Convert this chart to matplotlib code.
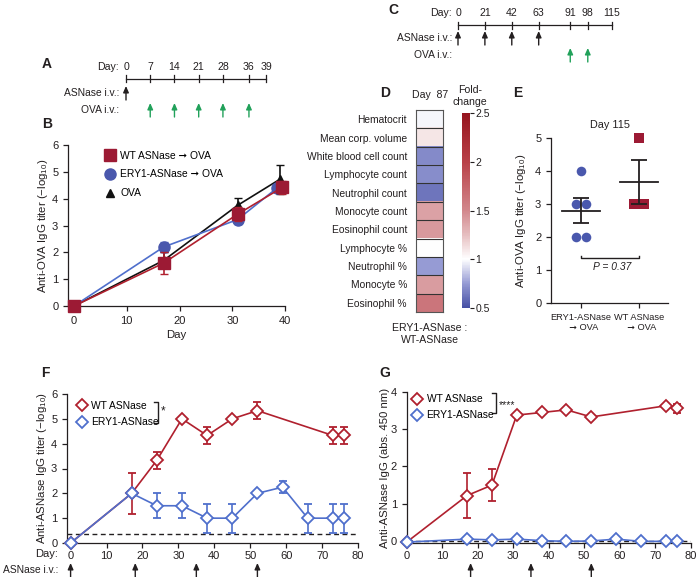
import matplotlib
matplotlib.use('Agg')
import matplotlib.pyplot as plt
import numpy as np
from matplotlib.colors import LinearSegmentedColormap, Normalize
from matplotlib.lines import Line2D

plt.rcParams['font.family'] = ['Liberation Sans', 'DejaVu Sans']
plt.rcParams['mathtext.fontset'] = 'custom'
plt.rcParams['mathtext.rm'] = 'Liberation Sans'
plt.rcParams['mathtext.it'] = 'Liberation Sans:italic'
plt.rcParams['font.size'] = 7.4
plt.rcParams['axes.linewidth'] = 0.9
plt.rcParams['xtick.major.width'] = 0.9
plt.rcParams['ytick.major.width'] = 0.9
plt.rcParams['xtick.major.size'] = 3.5
plt.rcParams['ytick.major.size'] = 3.5

# ---------------- data ----------------
# Panel A timeline
a_days = [0, 7, 14, 21, 28, 36, 39]
a_asnase = [0]
a_ova = [7, 14, 21, 28, 36]
# Panel C timeline
c_days = [0, 21, 42, 63, 91, 98, 115]
c_asnase = [0, 21, 42, 63]
c_ova = [91, 98]
# Panel B
b_wt_day = [0, 17, 31, 39.5]
b_wt = [0, 1.6, 3.42, 4.42]
b_wt_err = [0, 0.4, 0.27, 0.25]
b_ery_day = [0, 17, 31, 38.5]
b_ery = [0, 2.2, 3.22, 4.4]
b_ery_err = [0, 0.2, 0.15, 0.08]
b_ova_day = [0, 17, 31, 39]
b_ova = [0, 1.7, 3.75, 4.72]
b_ova_err = [0, 0.3, 0.27, 0.55]
# Panel D
d_labels = ['Hematocrit', 'Mean corp. volume', 'White blood cell count',
            'Lymphocyte count', 'Neutrophil count', 'Monocyte count',
            'Eosinophil count', 'Lymphocyte %', 'Neutrophil %',
            'Monocyte %', 'Eosinophil %']
d_fold = [0.98, 1.1, 0.7, 0.71, 0.63, 1.38, 1.42, 1.0, 0.75, 1.4, 1.62]
d_ticks = [0.5, 1, 1.5, 2, 2.5]
# Panel E
e_cats = ['ERY1-ASNase\n  \u279e OVA', 'WT ASNase\n  \u279e OVA']
e_ery = [4, 3, 3, 2, 2]
e_wt = [5, 3, 3]
e_p = 'P = 0.37'
# Panel F
f_wt_day = [0, 17, 24, 31, 38, 45, 52, 73, 76]
f_wt = [0, 2.0, 3.33, 5.0, 4.33, 5.0, 5.33, 4.33, 4.33]
f_wt_err = [0, 0.83, 0.33, 0, 0.33, 0, 0.33, 0.33, 0.33]
f_ery_day = [0, 17, 24, 31, 38, 45, 52, 59, 66, 73, 76]
f_ery = [0, 2.0, 1.5, 1.5, 1.0, 1.0, 2.0, 2.25, 1.0, 1.0, 1.0]
f_ery_err = [0, 0, 0.5, 0.5, 0.58, 0.58, 0, 0.25, 0.58, 0.58, 0.58]
f_limit = 0.37
# Panel G
g_wt_day = [0, 17, 24, 31, 38, 45, 52, 73, 76]
g_wt = [-0.03, 1.22, 1.5, 3.38, 3.45, 3.52, 3.33, 3.63, 3.56]
g_wt_err = [0, 0.6, 0.43, 0, 0, 0, 0, 0, 0.12]
g_ery_day = [0, 17, 24, 31, 38, 45, 52, 59, 66, 73, 76]
g_ery = [-0.03, 0.05, 0.03, 0.05, 0.01, -0.01, 0.0, 0.05, -0.01, -0.01, -0.01]
g_limit = 0.0
fg_asnase_f = [0, 18, 35, 52]
fg_asnase_g = [18, 35, 52]

# ---------------- style ----------------
W, H = 700, 577
fig = plt.figure(figsize=(7, 5.77), dpi=100)
TXT = '#231f20'
RED = '#b0202e'
RED_M = '#9c1a34'
BLUE = '#4f6fcc'
BLUE_M = '#4a58ad'
GREEN = '#21a15a'
FS = 7.4
TFS = 7.6
TICK = 8


def px_axes(l, t, r, b):
    return fig.add_axes([l / W, 1 - b / H, (r - l) / W, (b - t) / H])


def letter(x, y, s):
    fig.text(x / W, 1 - y / H, s, fontsize=10, fontweight='bold', ha='center', va='center', color=TXT)


def up_arrow(ax, x, y0, y1, color, xycoords='data'):
    ax.annotate('', xy=(x, y1), xytext=(x, y0), xycoords=xycoords, textcoords=xycoords,
                arrowprops=dict(arrowstyle='-|>,head_length=0.5,head_width=0.22', color=color,
                                lw=1.0, shrinkA=0, shrinkB=0), annotation_clip=False)


def style_axes(ax):
    for s in ['top', 'right']:
        ax.spines[s].set_visible(False)
    for s in ['left', 'bottom']:
        ax.spines[s].set_color(TXT)
    ax.tick_params(colors=TXT, labelcolor=TXT, labelsize=TICK)


def timeline(l, r, t, b, days, asn, ova, y_lab, y_line, y_asn, y_ova, right_px):
    # schematic timeline: spacing blends even steps with day-proportional steps
    ax = px_axes(l, t, r, b)
    ax.set_xlim(0, 1)
    ax.set_ylim(b, t)
    ax.axis('off')
    n = len(days)
    span = days[-1] - days[0]

    def pos(d):
        i = np.interp(d, days, np.arange(n))
        return 0.5 * i / (n - 1) + 0.5 * (d - days[0]) / span

    xr = (right_px - l) / (r - l)
    ax.text(xr, y_lab, 'Day:', ha='right', va='center', fontsize=TFS, color=TXT)
    ax.text(xr, y_asn, 'ASNase i.v.:', ha='right', va='center', fontsize=FS, color=TXT)
    ax.text(xr, y_ova, 'OVA i.v.:', ha='right', va='center', fontsize=FS, color=TXT)
    for d in days:
        ax.text(pos(d), y_lab, str(d), ha='center', va='center', fontsize=TFS, color=TXT)
        ax.plot([pos(d), pos(d)], [y_line - 3.5, y_line + 3.5], color=TXT, lw=0.9, clip_on=False)
    ax.plot([0, 1], [y_line, y_line], color=TXT, lw=0.9, clip_on=False)
    for d in asn:
        up_arrow(ax, pos(d), y_asn + 7, y_asn - 7, TXT)
    for d in ova:
        up_arrow(ax, pos(d), y_ova + 7, y_ova - 7, GREEN)
    return ax


# ---------------- A ----------------
letter(47, 64, 'A')
timeline(126, 266, 55, 125, a_days, a_asnase, a_ova, 67, 79, 93, 110, 119)

# ---------------- C ----------------
letter(393, 10, 'C')
timeline(458, 612, 0, 65, c_days, c_asnase, c_ova, 13, 25, 38, 55, 452)

# ---------------- B ----------------
letter(47, 124, 'B')
axB = px_axes(68, 145, 285, 306)
axB.set_xlim(-1.14, 40)
axB.set_ylim(0, 6)
style_axes(axB)
axB.errorbar(b_ova_day, b_ova, yerr=b_ova_err, color='#111111', marker='^', ms=6,
             lw=1.2, capsize=3, clip_on=False, zorder=3)
axB.errorbar(b_ery_day, b_ery, yerr=b_ery_err, color=BLUE, marker='o', ms=8, mfc=BLUE_M, mec=BLUE_M,
             lw=1.2, capsize=3, clip_on=False, zorder=4)
axB.errorbar(b_wt_day, b_wt, yerr=b_wt_err, color=RED, marker='s', ms=8, mfc=RED_M, mec=RED_M,
             lw=1.2, capsize=3, clip_on=False, zorder=5)
axB.set_xticks([0, 10, 20, 30, 40])
axB.set_yticks(range(7))
axB.set_xlabel('Day', fontsize=8.2, color=TXT, labelpad=3)
axB.set_ylabel('Anti-OVA IgG titer (\u2212log$_{10}$)', fontsize=8.2, color=TXT)
axB.yaxis.set_label_coords((50 - 68) / (285 - 68), 0.5)
hB = [Line2D([], [], ls='none', marker='s', ms=8, mfc=RED_M, mec=RED_M),
      Line2D([], [], ls='none', marker='o', ms=8, mfc=BLUE_M, mec=BLUE_M),
      Line2D([], [], ls='none', marker='^', ms=6, color='#111111')]
axB.legend(hB, ['WT ASNase \u279e OVA', 'ERY1-ASNase \u279e OVA', 'OVA'], loc='upper left',
           bbox_to_anchor=((101 - 68) / 217, 0.99), frameon=False, handlelength=1.0,
           handletextpad=0.45, labelspacing=0.85, fontsize=FS, borderaxespad=0)

# ---------------- D ----------------
letter(385, 93, 'D')
cmap = LinearSegmentedColormap.from_list('fc', [(0, '#4650a5'), (0.125, '#969bd4'), (0.25, '#ffffff'),
                                                (0.375, '#e6bec0'), (0.5, '#d2878c'), (0.75, '#b94148'),
                                                (1, '#96141e')])
axD = px_axes(416, 110, 443, 312)
im = axD.imshow(np.array(d_fold)[:, None], cmap=cmap, norm=Normalize(0.5, 2.5), aspect='auto')
axD.set_xticks([])
axD.set_yticks(range(len(d_labels)))
axD.set_yticklabels(d_labels, fontsize=FS, color=TXT)
axD.tick_params(axis='y', length=0, pad=6.5)
for i in range(1, len(d_labels)):
    axD.axhline(i - 0.5, color='#333333', lw=0.8)
for s in axD.spines.values():
    s.set_color('#555555')
    s.set_linewidth(0.8)
fig.text(430 / W, 1 - 95 / H, 'Day  87', ha='center', va='center', fontsize=TFS, color=TXT)
fig.text(470 / W, 1 - 96 / H, 'Fold-\nchange', ha='center', va='center', fontsize=TFS, color=TXT,
         linespacing=1.15)
fig.text(430 / W, 1 - 334 / H, 'ERY1-ASNase :\nWT-ASNase', ha='center', va='center', fontsize=TFS,
         color=TXT, linespacing=1.2)
axCB = px_axes(462, 113, 470, 308)
cb = fig.colorbar(im, cax=axCB, ticks=d_ticks)
cb.outline.set_visible(False)
cb.ax.set_yticklabels(['0.5', '1', '1.5', '2', '2.5'])
cb.ax.tick_params(length=3, width=0.8, labelsize=7.5, colors=TXT, pad=1)

# ---------------- E ----------------
letter(518, 93, 'E')
axE = px_axes(551, 138, 668, 303)
axE.set_xlim(-0.52, 1.5)
axE.set_ylim(0, 5)
style_axes(axE)
axE.set_yticks(range(6))
axE.set_xticks([0, 1])
axE.set_xticklabels(e_cats, fontsize=6.7)
axE.set_title('Day 115', fontsize=TFS + 0.2, color=TXT, pad=7)
axE.set_ylabel('Anti-OVA IgG titer (\u2212log$_{10}$)', fontsize=8.2, color=TXT)
axE.yaxis.set_label_coords((528 - 551) / 117, 0.5)
for xi, vals, col, mk in [(0, e_ery, BLUE_M, 'o'), (1, e_wt, RED_M, 's')]:
    vals = np.array(vals, dtype=float)
    xs = np.zeros(len(vals))
    for v in np.unique(vals):
        idx = np.where(vals == v)[0]
        n = len(idx)
        xs[idx] = (np.arange(n) - (n - 1) / 2) * 0.18
    axE.scatter(xi + xs, vals, s=48, marker=mk, color=col, zorder=3, clip_on=False, linewidths=0)
    m = vals.mean()
    sem = vals.std(ddof=1) / np.sqrt(len(vals))
    axE.plot([xi - 0.33, xi + 0.33], [m, m], color=TXT, lw=1.3, zorder=4)
    axE.errorbar([xi], [m], yerr=[sem], color=TXT, lw=1.3, capsize=5.5, capthick=1.3, zorder=4)
axE.plot([0, 0, 1, 1], [1.43, 1.35, 1.35, 1.43], color=TXT, lw=1.0)
axE.text(0.53, 1.09, e_p, ha='center', va='center', fontsize=FS, color=TXT, style='italic')

# ---------------- F ----------------
letter(45, 373, 'F')
axF = px_axes(67, 394, 358, 543)
axF.set_xlim(-1, 80)
axF.set_ylim(0, 6)
style_axes(axF)
axF.tick_params(axis='x', pad=2.5)
axF.set_xticks(range(0, 81, 10))
axF.set_yticks(range(7))
axF.axhline(f_limit, color=TXT, lw=1.0, ls=(0, (3.5, 2.5)), zorder=1)
axF.errorbar(f_wt_day, f_wt, yerr=f_wt_err, color=RED, marker='D', ms=6, mfc='white', mec=RED, mew=1.3,
             lw=1.2, capsize=3, clip_on=False, zorder=3)
axF.errorbar(f_ery_day, f_ery, yerr=f_ery_err, color=BLUE, marker='D', ms=6, mfc='white', mec=BLUE, mew=1.3,
             lw=1.2, capsize=3, clip_on=False, zorder=4)
axF.set_ylabel('Anti-ASNase IgG titer (\u2212log$_{10}$)', fontsize=8.2, color=TXT)
axF.yaxis.set_label_coords((49 - 67) / 291, 0.5)
ppdF = 291 / 81
trF = axF.get_xaxis_transform()
fyF = lambda y: (543 - y) / (543 - 394)
xrF = -1 + (58 - 67) / ppdF
axF.text(xrF, fyF(554), 'Day:', transform=trF, ha='right', va='center', fontsize=8, color=TXT)
axF.text(xrF, fyF(570), 'ASNase i.v.:', transform=trF, ha='right', va='center', fontsize=FS, color=TXT)
for d in fg_asnase_f:
    up_arrow(axF, d, fyF(577), fyF(563), TXT, xycoords=('data', 'axes fraction'))
hF = [Line2D([], [], ls='none', marker='D', ms=6, mfc='white', mec=RED, mew=1.3),
      Line2D([], [], ls='none', marker='D', ms=6, mfc='white', mec=BLUE, mew=1.3)]
axF.legend(hF, ['WT ASNase', 'ERY1-ASNase'], loc='upper left', bbox_to_anchor=(0.02, 0.98),
           frameon=False, handlelength=1.0, handletextpad=0.4, labelspacing=0.6, fontsize=FS,
           borderaxespad=0)
axF.plot([23.3, 24.3, 24.3, 23.3], [5.68, 5.68, 4.83, 4.83], color=TXT, lw=1.0, clip_on=False)
axF.text(25.7, 5.28, '*', ha='center', va='center', fontsize=8.5, color=TXT)

# ---------------- G ----------------
letter(385, 373, 'G')
axG = px_axes(406.7, 392, 690.7, 543)
axG.set_xlim(0, 80)
axG.set_ylim(-0.054, 4)
style_axes(axG)
axG.tick_params(axis='x', pad=2.5)
axG.set_xticks(range(0, 81, 10))
axG.set_yticks(range(5))
axG.axhline(g_limit, color=TXT, lw=1.0, ls=(0, (3.5, 2.5)), zorder=1)
axG.errorbar(g_wt_day, g_wt, yerr=g_wt_err, color=RED, marker='D', ms=6, mfc='white', mec=RED, mew=1.3,
             lw=1.2, capsize=3, clip_on=False, zorder=3)
axG.plot(g_ery_day, g_ery, color=BLUE, marker='D', ms=6, mfc='white', mec=BLUE, mew=1.3,
         lw=1.2, clip_on=False, zorder=4)
axG.set_ylabel('Anti-ASNase IgG (abs. 450 nm)', fontsize=8.2, color=TXT)
axG.yaxis.set_label_coords((390 - 406.7) / 284, 0.5)
fyG = lambda y: (543 - y) / (543 - 392)
for d in fg_asnase_g:
    up_arrow(axG, d, fyG(577), fyG(563), TXT, xycoords=('data', 'axes fraction'))
axG.legend(hF, ['WT ASNase', 'ERY1-ASNase'], loc='upper left', bbox_to_anchor=(0.005, 1.013),
           frameon=False, handlelength=1.0, handletextpad=0.4, labelspacing=0.6, fontsize=FS,
           borderaxespad=0)
axG.plot([24.0, 25.2, 25.2, 24.0], [3.97, 3.97, 3.44, 3.44], color=TXT, lw=1.0, clip_on=False)
axG.text(28.3, 3.65, '****', ha='center', va='center', fontsize=7.5, color=TXT)

fig.savefig('out.png', dpi=100)
